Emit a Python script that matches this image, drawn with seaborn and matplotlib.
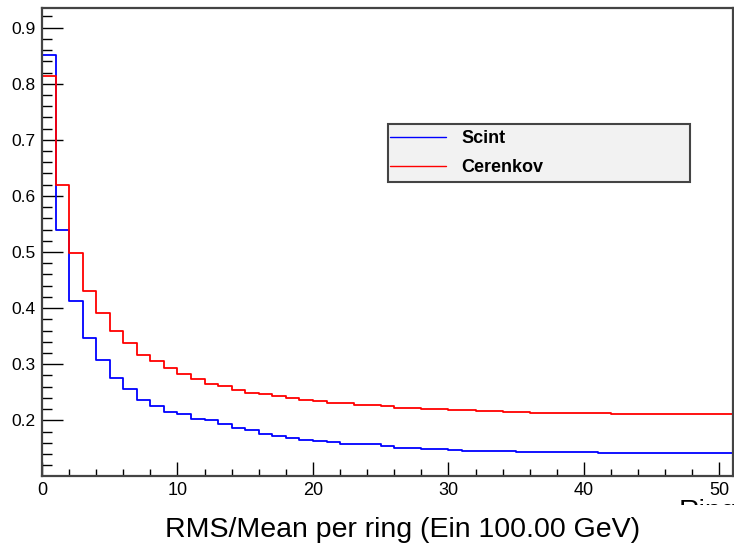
import numpy as np
import pandas as pd
import matplotlib
matplotlib.use("Agg")
import matplotlib.pyplot as plt
import seaborn as sns
from matplotlib.lines import Line2D
from matplotlib.legend_handler import HandlerLine2D
from matplotlib.transforms import Bbox, TransformedBbox

# Ring index (bin lower edges) and RMS/Mean values per ring
rings = list(range(51))
scint = [0.852, 0.539, 0.413, 0.346, 0.307, 0.275, 0.255, 0.237, 0.225, 0.215,
         0.212, 0.203, 0.200, 0.194, 0.187, 0.182, 0.176, 0.172, 0.169, 0.164,
         0.163, 0.162, 0.158, 0.158, 0.157, 0.154, 0.151, 0.151, 0.149, 0.149,
         0.147, 0.146, 0.145, 0.145, 0.145, 0.144, 0.143, 0.143, 0.143, 0.143,
         0.143, 0.141, 0.141, 0.141, 0.141, 0.141, 0.141, 0.141, 0.141, 0.141,
         0.141]
cerenkov = [0.813, 0.619, 0.499, 0.431, 0.391, 0.359, 0.338, 0.317, 0.305, 0.293,
            0.283, 0.274, 0.265, 0.261, 0.254, 0.249, 0.246, 0.243, 0.240, 0.236,
            0.234, 0.231, 0.230, 0.228, 0.227, 0.225, 0.222, 0.222, 0.220, 0.220,
            0.218, 0.218, 0.216, 0.216, 0.215, 0.215, 0.213, 0.213, 0.213, 0.213,
            0.213, 0.213, 0.211, 0.211, 0.211, 0.211, 0.211, 0.211, 0.211, 0.211,
            0.211]
series_names = ["Scint", "Cerenkov"]
series_colors = ["#0000ff", "#ff0000"]
title_text = "RMS/Mean per ring (Ein 100.00 GeV)"
x_title = "Ring"

sns.set_style("white")
plt.rcParams["font.family"] = ["Liberation Sans", "DejaVu Sans"]
for key in ["text.color", "axes.labelcolor", "xtick.color", "ytick.color"]:
    plt.rcParams[key] = "black"

fig = plt.figure(figsize=(7.34, 5.46), dpi=100)
ax = fig.add_axes([42 / 734, 70 / 546, 691 / 734, 468 / 546])

df = pd.DataFrame({"ring": np.array(rings) + 0.5, "scint": scint, "cerenkov": cerenkov})
edges = list(range(0, 52))
for col, name, color in zip(["scint", "cerenkov"], series_names, series_colors):
    sns.histplot(data=df, x="ring", weights=col, bins=edges, element="step",
                 fill=False, color=color, linewidth=1.3, label=name, ax=ax)

ax.set_xlim(0, 51)
ax.set_ylim(0.1007, 0.935)
ax.set_ylabel("")
ax.xaxis.set_major_locator(matplotlib.ticker.MultipleLocator(10))
ax.xaxis.set_minor_locator(matplotlib.ticker.MultipleLocator(2))
ax.yaxis.set_major_locator(matplotlib.ticker.MultipleLocator(0.1))
ax.yaxis.set_minor_locator(matplotlib.ticker.MultipleLocator(0.02))
ax.yaxis.set_major_formatter(matplotlib.ticker.FormatStrFormatter("%.1f"))

ax.tick_params(axis="both", which="both", direction="in", colors="black",
               bottom=True, left=True, top=False, right=False, width=1.0)
ax.tick_params(axis="y", which="major", length=15, pad=4.5, labelsize=12.5)
ax.tick_params(axis="y", which="minor", length=7.5)
ax.tick_params(axis="x", which="major", length=10, pad=4.5, labelsize=13)
ax.tick_params(axis="x", which="minor", length=5)

for side, sp in ax.spines.items():
    sp.set_visible(True)
    sp.set_color("#444444")
    sp.set_linewidth(1.6)

# axis title at the right end, mostly hidden below the title band
ax.set_xlabel(x_title, loc="right", fontsize=20.5)
ax.xaxis.set_label_coords(1.0058, -0.0483)
lab = ax.xaxis.label
lab.set_clip_on(True)
lab.set_clip_box(TransformedBbox(Bbox([[0, 1 - 504.5 / 546], [1, 1]]), fig.transFigure))

leg = ax.legend(loc="upper left", bbox_to_anchor=(0.5007, 0.6267, 0.4371, 0.1248),
                mode="expand", borderaxespad=0, fancybox=False, frameon=True,
                facecolor="#f2f2f2", edgecolor="#444444", framealpha=1,
                prop={"weight": "bold", "size": 13}, handlelength=2.9,
                handletextpad=0.83, labelspacing=0.65, borderpad=0.34,
                handler_map={Line2D: HandlerLine2D(xpad=-0.22)})
leg.get_frame().set_linewidth(1.5)
for h in leg.legend_handles:
    h.set_linewidth(1.0)

fig.text(402.5 / 734, 9 / 546, title_text, ha="center", va="baseline", fontsize=20.5)

fig.savefig("out.png", dpi=100)
